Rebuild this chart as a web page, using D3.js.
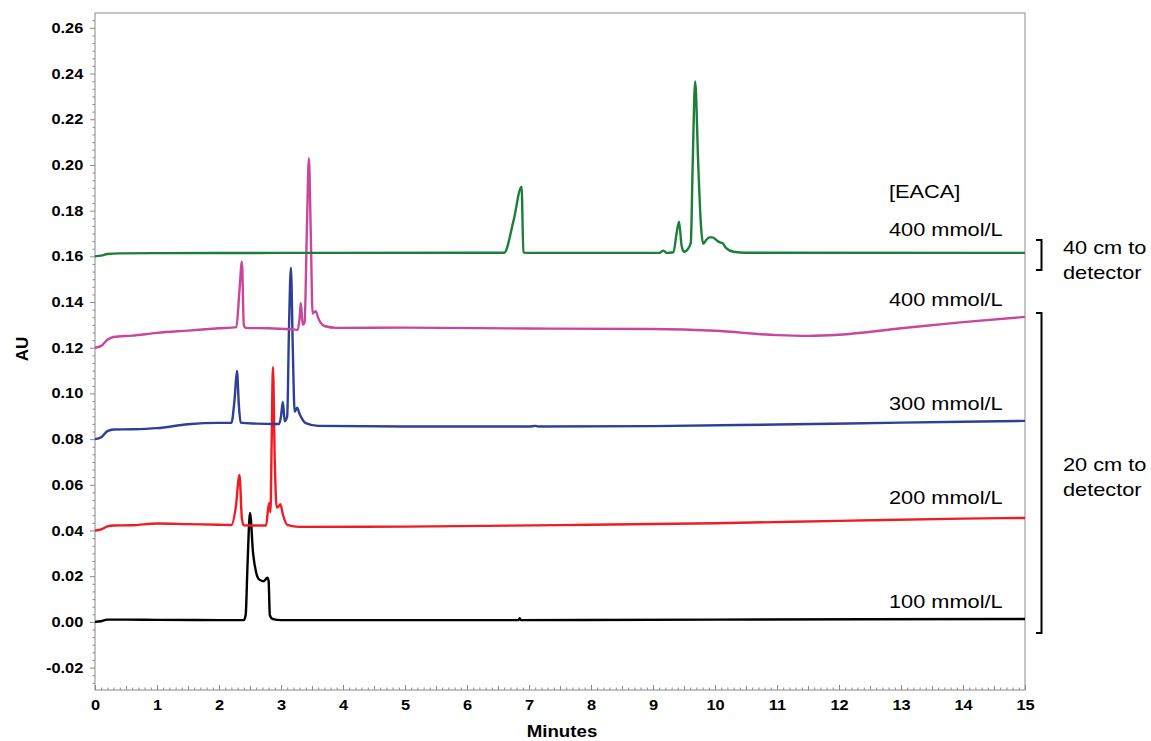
<!DOCTYPE html>
<html>
<head>
<meta charset="utf-8">
<script src="https://cdn.jsdelivr.net/npm/d3@7/dist/d3.min.js"></script>
<style>
  html, body { margin: 0; padding: 0; background: #fff; }
  svg { display: block; font-family: "Liberation Sans", Arial, sans-serif; }
</style>
</head>
<body>
<svg id="chart" width="1151" height="741"></svg>
<script>
// ---------- data (time in minutes, absorbance in AU) ----------
const xTicks = [0,1,2,3,4,5,6,7,8,9,10,11,12,13,14,15];
const yTicks = [-0.02,0.00,0.02,0.04,0.06,0.08,0.10,0.12,0.14,0.16,0.18,0.20,0.22,0.24,0.26];

const series100 = [[0,0],[0.1,0.0003],[0.2,0.001],[0.5,0.001],[1,0.0009],[2,0.0008],[2.4,0.0008],
  [2.43,0.003],[2.46,0.025],[2.5,0.0477],[2.55,0.03],[2.6,0.0215],[2.65,0.0185],[2.72,0.0178],
  [2.78,0.0193],[2.8,0.018],[2.82,0.003],[2.87,0.0012],[3,0.0008],[4,0.0008],[6,0.0008],
  [6.83,0.0008],[6.85,0.0016],[6.87,0.0008],[10,0.001],[15,0.0013]];

const series200 = [[0,0.040],[0.1,0.0405],[0.2,0.0418],[0.3,0.0422],[0.6,0.0423],[1,0.0431],
  [1.5,0.0428],[2,0.0425],[2.2,0.0424],[2.27,0.05],[2.33,0.0643],[2.37,0.045],[2.4,0.0423],
  [2.6,0.0422],[2.76,0.0422],[2.79,0.049],[2.81,0.052],[2.83,0.048],[2.85,0.08],[2.87,0.1116],
  [2.9,0.07],[2.93,0.05],[2.96,0.0505],[2.99,0.0515],[3.03,0.047],[3.1,0.0425],[3.3,0.0416],
  [5,0.0417],[8,0.0425],[10,0.0432],[12,0.0442],[14,0.0452],[15,0.0455]];

const series300 = [[0,0.080],[0.1,0.0808],[0.2,0.0835],[0.3,0.0842],[0.6,0.0843],[1,0.0848],
  [1.5,0.0865],[2,0.0871],[2.2,0.0871],[2.25,0.097],[2.29,0.1098],[2.32,0.095],[2.35,0.0872],
  [2.6,0.0868],[2.9,0.0866],[2.97,0.0866],[3.0,0.09],[3.03,0.0963],[3.06,0.0878],[3.1,0.09],
  [3.13,0.13],[3.16,0.155],[3.19,0.12],[3.22,0.092],[3.26,0.0937],[3.3,0.091],[3.4,0.087],
  [3.6,0.0858],[5,0.0855],[7,0.0855],[7.1,0.0858],[7.15,0.0855],[9,0.0857],[11,0.0864],
  [13,0.0872],[15,0.088]];

const series400a = [[0,0.120],[0.1,0.1208],[0.2,0.1235],[0.3,0.1247],[0.6,0.1253],[1,0.1265],
  [1.5,0.1275],[2,0.1285],[2.28,0.129],[2.33,0.145],[2.37,0.1576],[2.4,0.13],[2.43,0.1287],
  [2.8,0.1285],[3.2,0.128],[3.27,0.1278],[3.3,0.133],[3.32,0.1396],[3.35,0.13],[3.38,0.131],
  [3.42,0.175],[3.45,0.203],[3.48,0.17],[3.51,0.135],[3.56,0.136],[3.6,0.133],[3.7,0.1295],
  [3.9,0.1287],[5,0.1288],[7,0.1284],[9,0.1282],[10,0.1274],[11,0.1255],[11.5,0.1252],
  [12,0.1257],[13,0.1285],[14,0.1312],[15,0.1335]];

const series400b = [[0,0.160],[0.1,0.1603],[0.2,0.161],[0.4,0.1613],[1,0.1614],[3,0.1615],
  [6,0.1616],[6.6,0.1616],[6.75,0.1755],[6.88,0.1905],[6.91,0.1618],[6.95,0.1615],[9.1,0.1615],
  [9.17,0.1625],[9.22,0.1615],[9.33,0.1618],[9.38,0.170],[9.42,0.1752],[9.46,0.165],[9.5,0.162],
  [9.57,0.1635],[9.61,0.166],[9.64,0.2],[9.68,0.2365],[9.73,0.2],[9.77,0.175],[9.81,0.1655],
  [9.86,0.1672],[9.91,0.1683],[9.96,0.1683],[10.02,0.1672],[10.07,0.1662],[10.12,0.1658],
  [10.18,0.1636],[10.3,0.162],[10.5,0.1616],[15,0.1615]];

const seriesList = [
  {name:"100 mmol/L", data:series100, color:"#000000", labelY:0.0088},
  {name:"200 mmol/L", data:series200, color:"#ee1d23", labelY:0.0543},
  {name:"300 mmol/L", data:series300, color:"#2e3f97", labelY:0.0958},
  {name:"400 mmol/L", data:series400a, color:"#c8479d", labelY:0.1409},
  {name:"400 mmol/L", data:series400b, color:"#1b7f3b", labelY:0.1716}
];
const legendTitle = "[EACA]";
const legendTitleY = 0.1882;
const brackets = [
  {top:0.1672, bottom:0.154, lines:["40 cm to","detector"], textY:0.1637},
  {top:0.1352, bottom:-0.0048, lines:["20 cm to","detector"], textY:0.0687}
];

// ---------- layout ----------
const W = 1151, H = 741;
const m = {top:13, right:126, bottom:51, left:95};
const sx = 1.17; // horizontal text stretch as in the reference
const svg = d3.select("#chart");

const x = d3.scaleLinear().domain([0,15]).range([m.left, W - m.right]);
const y = d3.scaleLinear().domain([-0.0298, 0.2665]).range([H - m.bottom, m.top]);

const gray = "#8a8a8a";

// frame
svg.append("rect")
  .attr("x", x(0)).attr("y", y(0.2665))
  .attr("width", x(15) - x(0)).attr("height", y(-0.0298) - y(0.2665))
  .attr("fill", "none").attr("stroke", gray).attr("stroke-width", 1);

// x minor ticks
const xMinor = d3.range(0, 151).map(i => i / 10).filter(v => Math.abs(v - Math.round(v)) > 1e-6);
const gxm = svg.append("g").attr("transform", `translate(0,${y(-0.0298)})`)
  .call(d3.axisBottom(x).tickValues(xMinor).tickSize(-2.5).tickFormat(""));
gxm.select(".domain").remove();
gxm.selectAll("line").attr("stroke", gray)
  .attr("y2", d => Math.abs(d * 2 - Math.round(d * 2)) < 1e-6 ? -4 : -2.5);

// x major
const gx = svg.append("g").attr("transform", `translate(0,${y(-0.0298)})`)
  .call(d3.axisBottom(x).tickValues(xTicks).tickSize(-5).tickPadding(10).tickFormat(d3.format("d")));
gx.select(".domain").remove();
gx.selectAll("line").attr("stroke", gray);
gx.selectAll("text").attr("font-size", 14).attr("font-weight", "bold").attr("fill", "#000")
  .attr("font-family", "'Liberation Sans', Arial, sans-serif")
  .attr("transform", `scale(${sx},1)`);

// y minor ticks
const yMinor = [];
for (let i = -9; i <= 79; i++) { const v = i * 0.02 / 6; if (i % 6 !== 0 && v > -0.0298 && v < 0.2665) yMinor.push(v); }
const gym = svg.append("g").attr("transform", `translate(${x(0)},0)`)
  .call(d3.axisLeft(y).tickValues(yMinor).tickSize(2.5).tickFormat(""));
gym.select(".domain").remove();
gym.selectAll("line").attr("stroke", gray);

// y major
const gy = svg.append("g").attr("transform", `translate(${x(0)},0)`)
  .call(d3.axisLeft(y).tickValues(yTicks).tickSize(5).tickPadding(5).tickFormat(d => d.toFixed(2)));
gy.select(".domain").remove();
gy.selectAll("line").attr("stroke", gray);
gy.selectAll("text").attr("font-size", 14).attr("font-weight", "bold").attr("fill", "#000")
  .attr("font-family", "'Liberation Sans', Arial, sans-serif")
  .attr("transform", `scale(${sx},1)`);

// axis titles
svg.append("text").attr("x", 562 / sx).attr("y", 737)
  .attr("transform", `scale(${sx},1)`)
  .attr("text-anchor", "middle").attr("font-size", 16).attr("font-weight", "bold")
  .text("Minutes");
svg.append("text")
  .attr("transform", `translate(28,${y(0.1195)}) rotate(-90)`)
  .attr("text-anchor", "middle").attr("font-size", 17).attr("font-weight", "bold")
  .text("AU");

// traces
const line = d3.line().x(d => x(d[0])).y(d => y(d[1])).curve(d3.curveMonotoneX);
svg.append("g").selectAll("path").data(seriesList).join("path")
  .attr("d", d => line(d.data))
  .attr("fill", "none")
  .attr("stroke", d => d.color)
  .attr("stroke-width", 2.4)
  .attr("stroke-linejoin", "round");

// series labels
const labelX = 889;
svg.append("text").attr("x", labelX / sx).attr("y", y(legendTitleY)).attr("dy", "0.35em")
  .attr("transform", `scale(${sx},1)`).attr("font-size", 18.6).text(legendTitle);
svg.append("g").selectAll("text").data(seriesList).join("text")
  .attr("x", labelX / sx).attr("y", d => y(d.labelY)).attr("dy", "0.35em")
  .attr("transform", `scale(${sx},1)`).attr("font-size", 18.6)
  .text(d => d.name);

// brackets
const bx = 1041.5, bw = 5.5;
brackets.forEach(b => {
  svg.append("path")
    .attr("d", `M${bx - bw},${y(b.top)} H${bx} V${y(b.bottom)} H${bx - bw}`)
    .attr("fill", "none").attr("stroke", "#000").attr("stroke-width", 2);
  const t = svg.append("text").attr("x", 1063 / sx).attr("y", y(b.textY))
    .attr("transform", `scale(${sx},1)`).attr("font-size", 18.6);
  b.lines.forEach((l, i) => t.append("tspan").attr("x", 1063 / sx)
    .attr("dy", i === 0 ? "0.35em" : "1.33em").text(l));
});
</script>
</body>
</html>
